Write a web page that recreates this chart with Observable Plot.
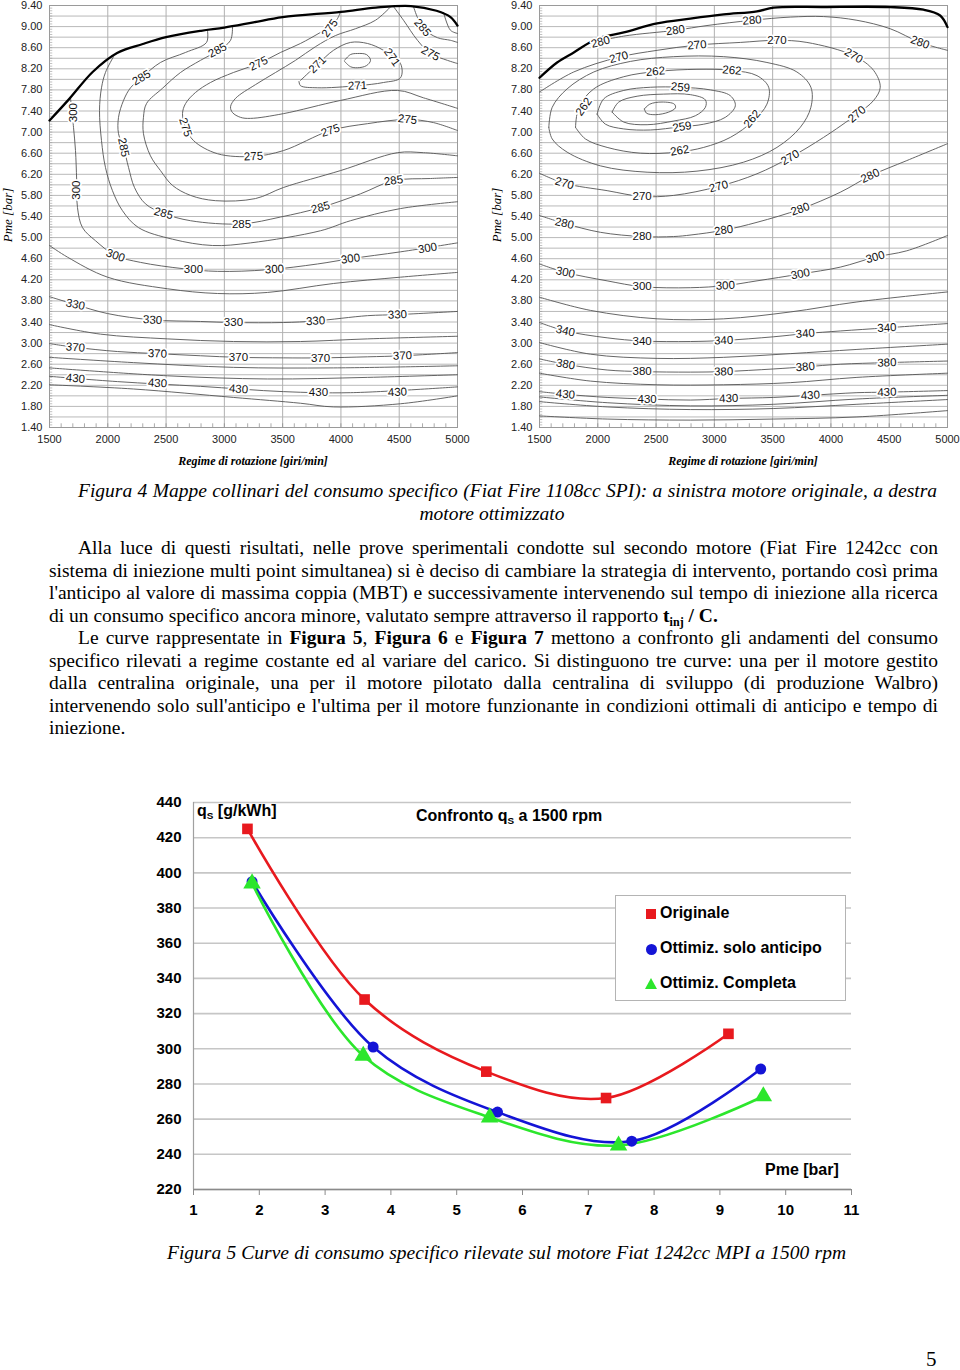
<!DOCTYPE html>
<html><head><meta charset="utf-8">
<script src="https://cdn.jsdelivr.net/npm/d3@7"></script>
<script src="https://cdn.jsdelivr.net/npm/@observablehq/plot@0.6"></script>
<style>
body{margin:0;background:#fff;}
#page{position:relative;width:960px;height:1370px;overflow:hidden;font-family:"Liberation Serif","Times New Roman",serif;color:#000;background:#fff;}
.abs{position:absolute;}
.ylab{transform:translate(-50%,-50%) rotate(-90deg);font:italic 13px "Liberation Serif",serif;white-space:nowrap;}
.xlab{transform:translate(-50%,-50%);font:italic bold 12px "Liberation Serif",serif;white-space:nowrap;}
.j{white-space:nowrap;text-align:justify;text-align-last:justify;}
.l{white-space:nowrap;text-align:left;}
.para{font-size:19.5px;line-height:22.5px;}
sub{font-size:0.62em;line-height:0;vertical-align:-0.3em;}
.nar{font-family:"Liberation Sans",Arial,sans-serif;font-weight:bold;font-size:16px;white-space:nowrap;}
#legend{left:615px;top:895px;width:229px;height:104px;border:1px solid #b4b4b4;background:#fff;}
.mk{position:absolute;}
</style></head>
<body><div id="page">
<div id="map1" class="abs" style="left:0;top:0"></div>
<div id="map2" class="abs" style="left:490px;top:0"></div>
<div class="abs ylab" style="left:8px;top:215px">Pme [bar]</div>
<div class="abs ylab" style="left:497px;top:215px">Pme [bar]</div>
<div class="abs xlab" style="left:253px;top:461px">Regime di rotazione [giri/min]</div>
<div class="abs xlab" style="left:743px;top:461px">Regime di rotazione [giri/min]</div>

<div class="abs para" style="left:78px;top:480px;width:859px;font-style:italic;"><div class="j fit">Figura 4 Mappe collinari del consumo specifico (Fiat Fire 1108cc SPI): a sinistra motore originale, a destra</div></div>
<div class="abs para" style="left:492px;top:503px;transform:translateX(-50%);font-style:italic;white-space:nowrap;">motore ottimizzato</div>

<div class="abs para" style="left:49px;top:537px;width:889px;">
<div class="j fit" style="padding-left:29px">Alla luce di questi risultati, nelle prove sperimentali condotte sul secondo motore (Fiat Fire 1242cc con</div>
<div class="j fit">sistema di iniezione multi point simultanea) si è deciso di cambiare la strategia di intervento, portando così prima</div>
<div class="j fit">l'anticipo al valore di massima coppia (MBT) e successivamente intervenendo sul tempo di iniezione alla ricerca</div>
<div class="l">di un consumo specifico ancora minore, valutato sempre attraverso il rapporto <b>t<sub>inj</sub> / C.</b></div>
<div class="j fit" style="padding-left:29px">Le curve rappresentate in <b>Figura 5</b>, <b>Figura 6</b> e <b>Figura 7</b> mettono a confronto gli andamenti del consumo</div>
<div class="j fit">specifico rilevati a regime costante ed al variare del carico. Si distinguono tre curve: una per il motore gestito</div>
<div class="j fit">dalla centralina originale, una per il motore pilotato dalla centralina di sviluppo (di produzione Walbro)</div>
<div class="j fit">intervenendo solo sull'anticipo e l'ultima per il motore funzionante in condizioni ottimali di anticipo e tempo di</div>
<div class="l">iniezione.</div>
</div>

<div id="fig5" class="abs" style="left:140px;top:790px"></div>
<div class="abs nar" style="left:197px;top:802px">q<sub>S</sub> [g/kWh]</div>
<div class="abs nar" style="left:416px;top:807px">Confronto q<sub>S</sub> a 1500 rpm</div>
<div class="abs nar" style="left:765px;top:1161px">Pme [bar]</div>
<div id="legend" class="abs">
  <div class="mk" style="left:30px;top:13px;width:10px;height:10px;background:#e8191e"></div>
  <div class="abs nar" style="left:44px;top:8px">Originale</div>
  <div class="mk" style="left:30px;top:48px;width:11px;height:11px;border-radius:50%;background:#1414d6"></div>
  <div class="abs nar" style="left:44px;top:43px">Ottimiz. solo anticipo</div>
  <div class="mk" style="left:29px;top:82px;width:0;height:0;border-left:6px solid transparent;border-right:6px solid transparent;border-bottom:11px solid #2ce62c"></div>
  <div class="abs nar" style="left:44px;top:78px">Ottimiz. Completa</div>
</div>

<div class="abs para" style="left:167px;top:1242px;width:679px;font-style:italic;"><div class="j fit">Figura 5 Curve di consumo specifico rilevate sul motore Fiat 1242cc MPI a 1500 rpm</div></div>
<div class="abs" style="left:926px;top:1347px;font-size:21px">5</div>
</div>

<script>
// ---------- Figura 4 : axis ticks ----------
const rpmTicks = [1500, 2000, 2500, 3000, 3500, 4000, 4500, 5000];
const pmeTicks = [1.4, 1.8, 2.2, 2.6, 3.0, 3.4, 3.8, 4.2, 4.6, 5.0, 5.4, 5.8, 6.2, 6.6, 7.0, 7.4, 7.8, 8.2, 8.6, 9.0, 9.4];

// ---------- Left map (motore originale) ----------
const leftBoundary = [[1500,7.22],[1670,7.63],[1870,8.14],[2080,8.5],[2300,8.67],[2500,8.8],[2800,8.92],[3000,8.98],[3250,9.08],[3500,9.18],[4000,9.28],[4300,9.36],[4600,9.39],[4820,9.3],[4940,9.18],[5000,9.02]];
const left300 = [[1680,7.65],[1706,7.09],[1723,6.65],[1733,6.1],[1740,5.57],[1783,5.19],[1895,4.94],[2066,4.66],[2281,4.53],[2650,4.41],[2941,4.36],[3370,4.39],[3799,4.50],[4082,4.60],[4511,4.73],[5000,4.90]];
const left295 = [[2049,8.43],[1980,8.13],[1946,7.84],[1929,7.41],[1946,6.84],[1980,6.33],[2040,5.89],[2126,5.51],[2263,5.19],[2555,4.97],[2898,4.85],[3224,4.90],[3825,5.13],[4082,5.32],[4511,5.55],[5000,5.68]];
const left285 = [[2855,8.93],[2847,8.70],[2667,8.51],[2452,8.32],[2289,8.03],[2195,7.84],[2135,7.60],[2092,7.28],[2092,6.97],[2135,6.71],[2178,6.33],[2229,5.95],[2323,5.64],[2478,5.46],[2710,5.32],[3147,5.26],[3482,5.39],[3825,5.57],[4168,5.83],[4451,6.08],[4768,6.12],[5000,6.14]];
const left280 = [[3070,9.0],[3053,8.74],[2950,8.55],[2795,8.36],[2624,8.13],[2469,7.83],[2332,7.54],[2306,7.28],[2306,6.97],[2366,6.55],[2452,6.27],[2555,5.99],[2710,5.80],[2924,5.70],[3267,5.74],[3507,5.95],[3996,6.27],[4485,6.61],[4708,6.61],[5000,6.55]];
const left275 = [[3996,9.28],[3970,9.15],[3910,9.0],[3825,8.89],[3653,8.68],[3482,8.51],[3293,8.30],[3078,8.13],[2881,7.94],[2752,7.75],[2667,7.54],[2641,7.35],[2667,7.09],[2735,6.84],[2941,6.59],[3250,6.54],[3507,6.65],[3910,7.03],[4228,7.16],[4571,7.24],[4794,7.18],[5000,7.03]];
const left273 = [[5000,7.45],[4708,7.65],[4485,7.79],[3996,7.60],[3507,7.35],[3224,7.26],[3138,7.28],[3070,7.37],[3053,7.48],[3096,7.64],[3267,7.90],[3439,8.13],[3610,8.36],[3782,8.62],[3953,8.83],[4125,8.96],[4296,9.12],[4420,9.36]];
const left271 = [[3653,7.98],[3799,8.28],[3936,8.55],[4082,8.70],[4228,8.68],[4365,8.55],[4511,8.30],[4511,8.03],[4365,7.94],[4142,7.88],[3799,7.84],[3653,7.88],[3640,7.96]];
const left268 = [[4031,8.36],[4082,8.47],[4142,8.49],[4219,8.47],[4254,8.36],[4219,8.26],[4142,8.22],[4082,8.24],[4031,8.34]];
const leftTopA = [[4622,9.38],[4657,9.17],[4708,8.96],[4828,8.79],[4940,8.74],[5000,8.70]];
const leftTopB = [[4451,9.38],[4537,9.12],[4657,8.74],[4768,8.49],[4914,8.36],[5000,8.30]];
const leftTopC = [[4880,9.27],[4940,8.93],[5000,8.87]];
const left315 = [[1500,4.85],[1654,4.63],[1998,4.25],[2512,4.03],[2941,3.94],[3370,3.96],[3936,4.13],[4511,4.25],[5000,4.34]];
const left330 = [[1500,3.88],[1723,3.73],[1998,3.56],[2384,3.44],[2795,3.41],[3078,3.39],[3507,3.39],[3782,3.42],[4228,3.52],[4485,3.54],[5000,3.60]];
const left350 = [[1500,3.35],[1937,3.17],[2512,3.08],[3078,3.03],[3653,3.03],[4228,3.08],[5000,3.13]];
const left370 = [[1500,2.99],[1723,2.92],[2083,2.84],[2426,2.80],[2795,2.76],[3121,2.73],[3507,2.72],[3825,2.72],[4228,2.74],[4528,2.76],[5000,2.82]];
const left400a = [[1500,2.73],[2220,2.63],[3078,2.54],[3936,2.53],[5000,2.57]];
const left400b = [[1500,2.53],[2512,2.38],[3370,2.32],[4228,2.35],[5000,2.40]];
const left430 = [[1500,2.37],[2083,2.27],[2795,2.18],[3507,2.08],[4082,2.06],[5000,2.17]];
const left460 = [[1500,2.21],[2220,2.13],[3078,1.97],[3653,1.86],[3936,1.79],[4511,1.85],[5000,2.0]];
const leftLabels = [
  ["300", [[1706,7.37,-90],[1733,5.9,-90],[2066,4.66,20],[2735,4.40,0],[3430,4.40,-3],[4082,4.60,-8],[4743,4.80,-10]]],
  ["285", [[2289,8.03,-30],[2941,8.55,-28],[2135,6.71,78],[2478,5.46,15],[3147,5.26,0],[3825,5.57,-15],[4451,6.08,-8],[4700,8.98,50]]],
  ["275", [[3905,8.97,-55],[3293,8.30,-25],[2667,7.09,72],[3250,6.54,-3],[3910,7.03,-18],[4571,7.24,6],[4768,8.49,28]]],
  ["271", [[3799,8.28,-45],[4438,8.42,55],[4142,7.88,-2]]],
  ["330", [[1723,3.73,12],[2384,3.44,3],[3078,3.39,0],[3782,3.42,-3],[4485,3.54,-3]]],
  ["370", [[1723,2.92,5],[2426,2.80,2],[3121,2.73,0],[3825,2.72,0],[4528,2.76,-2]]],
  ["430", [[1723,2.33,5],[2426,2.24,3],[3121,2.13,4],[3807,2.06,0],[4485,2.07,-3]]]
];

// ---------- Right map (motore ottimizzato) ----------
const rightBoundary = [[1500,8.03],[1651,8.32],[1794,8.51],[1994,8.77],[2223,8.89],[2509,9.06],[2794,9.15],[3080,9.23],[3366,9.29],[3509,9.36],[3937,9.37],[4508,9.37],[4794,9.32],[4937,9.21],[5000,8.99]];
const right280top = [[1920,8.68],[2223,8.82],[2666,8.93],[2937,9.02],[3323,9.12],[3651,9.18],[3937,9.19],[4223,9.12],[4508,8.96],[4765,8.70],[5000,8.55]];
const right270 = [[1500,7.76],[1794,8.14],[2180,8.42],[2509,8.55],[2851,8.65],[3223,8.70],[3537,8.74],[3794,8.70],[4194,8.45],[4366,8.17],[4423,7.85],[4366,7.60],[4223,7.34],[3937,6.90],[3651,6.52],[3366,6.21],[3037,5.97],[2651,5.80],[2380,5.78],[2080,5.89],[1714,6.03],[1500,6.22]];
const right265 = [[1580,7.09],[1609,7.47],[1737,7.82],[1966,8.14],[2280,8.34],[2651,8.43],[3080,8.43],[3451,8.32],[3708,8.14],[3828,7.85],[3828,7.47],[3737,7.09],[3537,6.71],[3251,6.43],[2851,6.26],[2423,6.24],[2023,6.36],[1737,6.62],[1609,6.87],[1580,7.09]];
const right262 = [[1809,7.09],[1837,7.47],[1966,7.82],[2223,8.05],[2509,8.15],[2851,8.19],[3151,8.17],[3366,8.07],[3466,7.85],[3451,7.53],[3337,7.22],[3137,6.90],[2909,6.71],[2680,6.62],[2366,6.60],[2080,6.71],[1894,6.87],[1809,7.09]];
const right259 = [[1994,7.34],[2051,7.63],[2223,7.79],[2451,7.85],[2709,7.85],[2966,7.80],[3137,7.69],[3180,7.50],[3094,7.28],[2909,7.15],[2709,7.10],[2451,7.04],[2223,7.06],[2066,7.15],[1994,7.34]];
const right257 = [[2123,7.38],[2180,7.57],[2337,7.68],[2566,7.72],[2794,7.71],[2923,7.61],[2923,7.47],[2837,7.31],[2651,7.21],[2423,7.14],[2223,7.19],[2123,7.38]];
const right255 = [[2400,7.44],[2446,7.53],[2551,7.57],[2657,7.53],[2666,7.46],[2609,7.38],[2494,7.33],[2417,7.36],[2400,7.44]];
const right280 = [[1500,5.42],[1714,5.27],[2023,5.10],[2380,5.02],[2650,5.02],[2800,5.05],[3080,5.14],[3366,5.29],[3737,5.54],[4080,5.86],[4337,6.17],[4651,6.46],[5000,6.78]];
const right300 = [[1500,4.50],[1723,4.34],[2080,4.18],[2380,4.07],[2794,4.05],[3094,4.09],[3366,4.18],[3737,4.31],[4080,4.44],[4380,4.63],[4651,4.75],[5000,5.04]];
const right320 = [[1500,3.87],[1937,3.62],[2509,3.46],[3080,3.46],[3651,3.59],[4223,3.78],[5000,3.97]];
const right340 = [[1500,3.39],[1723,3.23],[2080,3.10],[2380,3.04],[2794,3.03],[3080,3.05],[3509,3.12],[3780,3.18],[4080,3.23],[4480,3.29],[5000,3.37]];
const right360 = [[1500,3.01],[1937,2.79],[2509,2.71],[3080,2.73],[3651,2.80],[4223,2.88],[5000,2.98]];
const right380 = [[1500,2.70],[1723,2.60],[2080,2.49],[2380,2.46],[2794,2.45],[3080,2.46],[3509,2.51],[3780,2.55],[4080,2.60],[4480,2.63],[5000,2.66]];
const right400 = [[1500,2.43],[1937,2.28],[2509,2.21],[3080,2.21],[3651,2.25],[4223,2.35],[5000,2.43]];
const right430 = [[1500,2.08],[1723,2.03],[2080,1.97],[2423,1.94],[2794,1.92],[3123,1.95],[3509,1.97],[3823,2.01],[4223,2.06],[4480,2.07],[5000,2.10]];
const right450 = [[1500,1.98],[2080,1.87],[2794,1.81],[3509,1.84],[4223,1.94],[5000,2.01]];
const right470 = [[1500,1.89],[2080,1.79],[2794,1.74],[3509,1.76],[4223,1.84],[5000,1.93]];
const right520 = [[1500,1.62],[2080,1.56],[2794,1.54],[3509,1.56],[4223,1.60],[5000,1.72]];
const rightLabels = [
  ["280", [[2023,8.71,-15],[2666,8.93,-8],[3323,9.12,-5],[4765,8.70,20],[1714,5.27,12],[2380,5.03,0],[3080,5.14,-8],[3737,5.54,-20],[4337,6.17,-25]]],
  ["270", [[2180,8.42,-15],[2851,8.65,-5],[3537,8.74,0],[4194,8.45,30],[4223,7.34,-40],[3651,6.52,-30],[3037,5.97,-15],[2380,5.78,0],[1714,6.03,15]]],
  ["262", [[2494,8.15,-5],[3151,8.17,5],[1880,7.48,-55],[3323,7.25,-50],[2703,6.65,-10]]],
  ["259", [[2709,7.85,5],[2723,7.10,-10]]],
  ["300", [[1723,4.34,12],[2380,4.07,0],[3094,4.09,-3],[3737,4.31,-12],[4380,4.63,-15]]],
  ["340", [[1723,3.23,12],[2380,3.04,0],[3080,3.05,-2],[3780,3.18,-5],[4480,3.29,-3]]],
  ["380", [[1723,2.60,10],[2380,2.46,0],[3080,2.46,-2],[3780,2.55,-4],[4480,2.63,-2]]],
  ["430", [[1723,2.03,5],[2423,1.94,0],[3123,1.95,-2],[3823,2.01,-3],[4480,2.07,-2]]]
];

// ---------- Figura 5 data ----------
const pmeOriginale = [1.82, 3.60, 5.45, 7.27, 9.13];
const qsOriginale  = [425, 328, 287, 272, 308.5];
const pmeAnticipo  = [1.89, 3.73, 5.62, 7.66, 9.62];
const qsAnticipo   = [395, 301, 264, 247.5, 288.5];
const pmeCompleta  = [1.89, 3.58, 5.50, 7.46, 9.66];
const qsCompleta   = [394, 296, 261, 245, 273];
const qsTicks = [220, 240, 260, 280, 300, 320, 340, 360, 380, 400, 420, 440];
const pmeAxisTicks = [1, 2, 3, 4, 5, 6, 7, 8, 9, 10, 11];

const pmeGrid = d3.range(14, 95, 2).map(d => d / 10);
const pmeMinor = d3.range(140, 941, 5).map(d => d / 100);
const rpmMinor = d3.range(15, 51, 1).map(d => d * 100);

function contourMap(lines, boundary, labels) {
  const lineRows = [];
  lines.forEach((pts, i) => pts.forEach(([x, y]) => lineRows.push({id: i, x, y})));
  const bRows = boundary.map(([x, y]) => ({x, y}));
  const labelRows = labels.flatMap(([text, pts]) => pts.map(([x, y, r]) => ({text, x, y, r})));
  return Plot.plot({
    width: 470, height: 470,
    marginLeft: 49, marginRight: 13, marginTop: 5, marginBottom: 43,
    style: {fontFamily: "'Liberation Sans', Arial, sans-serif", fontSize: "11px", background: "transparent", overflow: "visible", color: "#222"},
    x: {domain: [1500, 5000]},
    y: {domain: [1.4, 9.4]},
    marks: [
      Plot.ruleY(pmeGrid, {stroke: "#b9b9b9", strokeWidth: 1}),
      Plot.ruleX(rpmTicks, {stroke: "#b0b0b0", strokeWidth: 1}),
      Plot.ruleY(pmeMinor, {x1: 1500, x2: 1528, stroke: "#999", strokeWidth: 0.6}),
      Plot.ruleX(rpmMinor, {y1: 1.4, y2: 1.47, stroke: "#888", strokeWidth: 0.7}),
      Plot.frame({stroke: "#9a9a9a"}),
      Plot.line(lineRows, {x: "x", y: "y", z: "id", curve: "catmull-rom", stroke: "#555", strokeWidth: 0.9}),
      Plot.line(bRows, {x: "x", y: "y", curve: "catmull-rom", stroke: "#000", strokeWidth: 2.3}),
      Plot.text(labelRows, {x: "x", y: "y", text: "text", rotate: "r", fill: "#111", stroke: "white", strokeWidth: 3.5, paintOrder: "stroke", fontSize: 11.5}),
      Plot.axisX(rpmTicks, {tickSize: 0, tickPadding: 8, label: null, tickFormat: d => String(d)}),
      Plot.axisY(pmeTicks, {tickSize: 0, tickPadding: 7, label: null, tickFormat: d => d.toFixed(2)})
    ]
  });
}

document.getElementById("map1").append(contourMap(
  [left300, left295, left285, left280, left275, left273, left271, left268, leftTopA, leftTopB, leftTopC,
   left315, left330, left350, left370, left400a, left400b, left430, left460],
  leftBoundary, leftLabels));
document.getElementById("map2").append(contourMap(
  [right280top, right270, right265, right262, right259, right257, right255, right280, right300,
   right320, right340, right360, right380, right400, right430, right450, right470, right520],
  rightBoundary, rightLabels));

// ---------- Figura 5 chart ----------
const zip = (xs, ys) => xs.map((x, i) => ({pme: x, qs: ys[i]}));
const sOrig = zip(pmeOriginale, qsOriginale);
const sAnt = zip(pmeAnticipo, qsAnticipo);
const sComp = zip(pmeCompleta, qsCompleta);
const RED = "#e8191e", BLUE = "#1414d6", GREEN = "#2ce62c";

const fig5 = Plot.plot({
  width: 730, height: 440,
  marginLeft: 53, marginRight: 19, marginTop: 12, marginBottom: 41,
  x: {domain: [1, 11]},
  y: {domain: [220, 440]},
  style: {fontFamily: "'Liberation Sans', Arial, sans-serif", fontSize: "15px", fontWeight: "bold", background: "transparent", overflow: "visible", color: "#000"},
  marks: [
    Plot.ruleY(qsTicks, {stroke: "#c6c6c6", strokeWidth: 1.6}),
    Plot.ruleX([1], {stroke: "#a0a0a0", strokeWidth: 1.2}),
    Plot.ruleY([220], {stroke: "#8a8a8a", strokeWidth: 1.3}),
    Plot.axisX(pmeAxisTicks, {tickSize: 6, tickPadding: 9, label: null, stroke: "#8a8a8a"}),
    Plot.axisY(qsTicks, {tickSize: 0, tickPadding: 12, label: null}),
    Plot.line(sOrig, {x: "pme", y: "qs", curve: "catmull-rom", stroke: RED, strokeWidth: 2.6}),
    Plot.line(sAnt, {x: "pme", y: "qs", curve: "catmull-rom", stroke: BLUE, strokeWidth: 2.6}),
    Plot.line(sComp, {x: "pme", y: "qs", curve: "catmull-rom", stroke: GREEN, strokeWidth: 2.6}),
    Plot.dot(sOrig, {x: "pme", y: "qs", symbol: "square", r: 6, fill: RED}),
    Plot.dot(sAnt, {x: "pme", y: "qs", symbol: "circle", r: 5.5, fill: BLUE}),
    Plot.dot(sComp, {x: "pme", y: "qs", symbol: "triangle", r: 6.5, fill: GREEN})
  ]
});
document.getElementById("fig5").append(fig5);

// ---------- fit justified text lines that are naturally too long ----------
document.querySelectorAll(".fit").forEach(div => {
  const cs = getComputedStyle(div);
  const W = div.clientWidth - parseFloat(cs.paddingLeft) - parseFloat(cs.paddingRight);
  div.style.textAlign = "left"; div.style.textAlignLast = "left";
  const r = document.createRange(); r.selectNodeContents(div);
  const w = r.getBoundingClientRect().width;
  div.style.textAlign = ""; div.style.textAlignLast = "";
  const n = div.textContent.length;
  if (w > W - 4) div.style.letterSpacing = ((W - 4 - w) / n) + "px";
});
</script>
</body></html>
